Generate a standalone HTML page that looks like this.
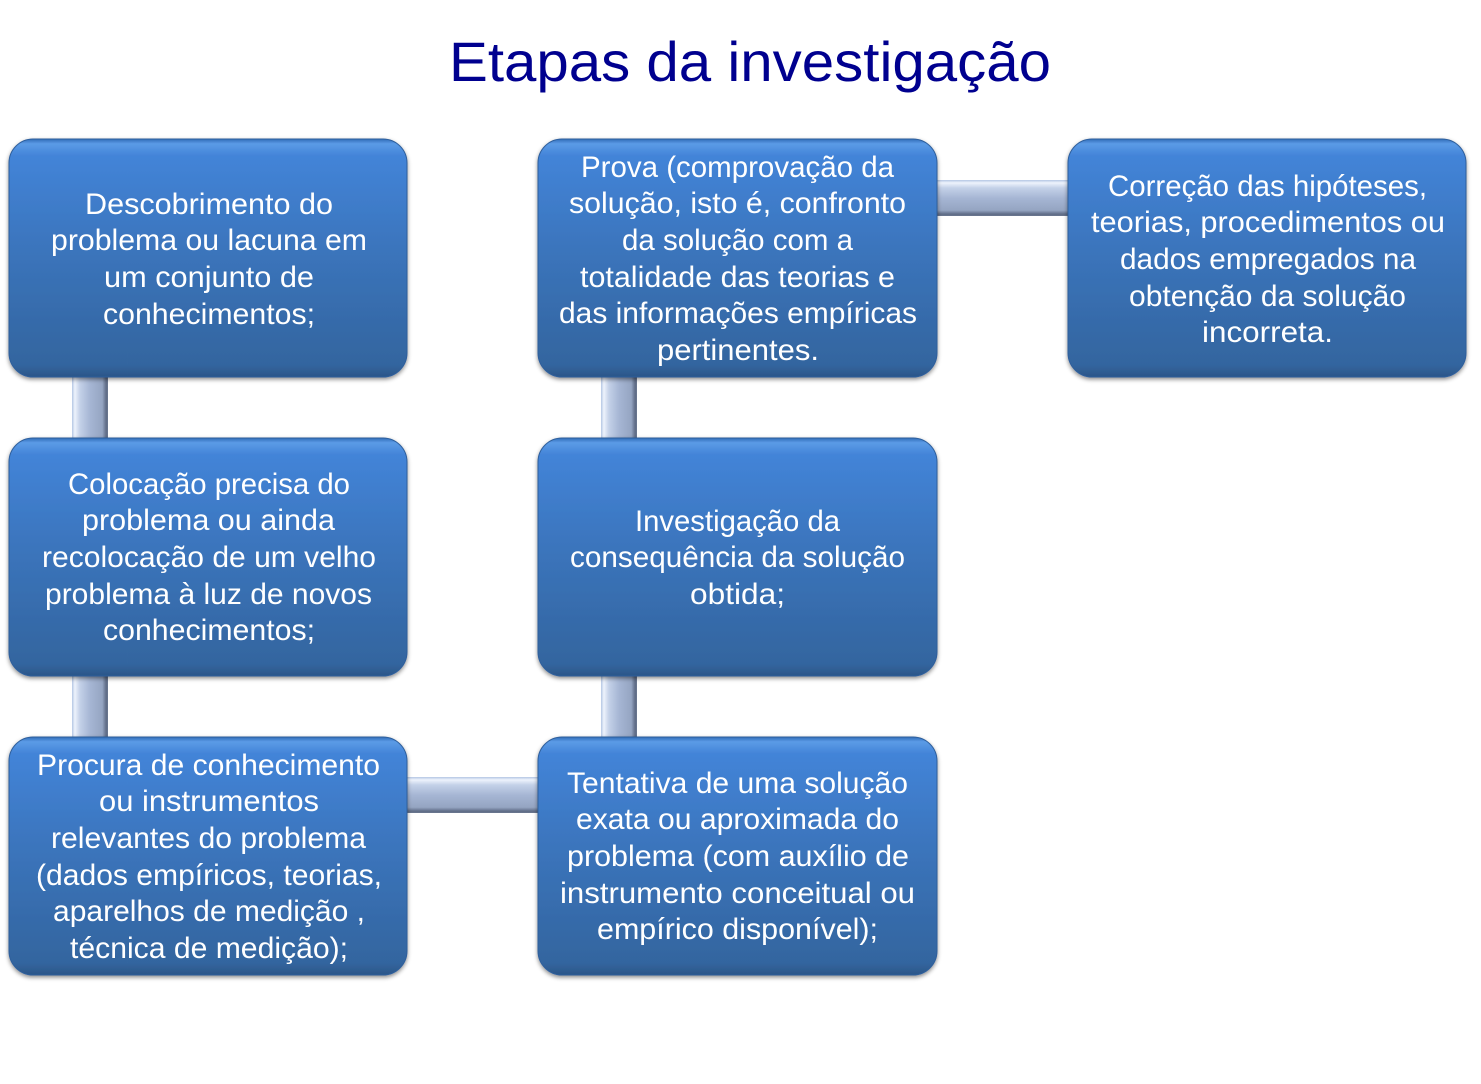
<!DOCTYPE html>
<html><head><meta charset="utf-8"><style>
html,body{margin:0;padding:0;background:#fff;width:1481px;height:1084px;overflow:hidden}
svg{display:block}
.t text{font-family:"Liberation Sans",sans-serif;font-size:29.5px;fill:#fff}
</style></head><body>
<svg width="1481" height="1084" viewBox="0 0 1481 1084" xmlns="http://www.w3.org/2000/svg">
<defs>
<linearGradient id="b" x1="0" y1="0" x2="0" y2="1">
<stop offset="0" stop-color="#2f6cb8"/><stop offset="0.02" stop-color="#5b9be6"/><stop offset="0.07" stop-color="#4384d8"/><stop offset="0.45" stop-color="#3b75bd"/><stop offset="0.95" stop-color="#33659f"/><stop offset="1" stop-color="#2b5688"/>
</linearGradient>
<linearGradient id="h" x1="0" y1="0" x2="0" y2="1">
<stop offset="0" stop-color="#b4c6e4"/><stop offset="0.08" stop-color="#eef3fc"/><stop offset="0.22" stop-color="#c4d1e8"/><stop offset="0.5" stop-color="#a6b6d4"/><stop offset="0.84" stop-color="#95a5c2"/><stop offset="0.95" stop-color="#5f6c86"/><stop offset="1" stop-color="#6c7890"/>
</linearGradient>
<linearGradient id="v" x1="0" y1="0" x2="1" y2="0">
<stop offset="0" stop-color="#b4c6e4"/><stop offset="0.08" stop-color="#eef3fc"/><stop offset="0.22" stop-color="#c4d1e8"/><stop offset="0.5" stop-color="#a6b6d4"/><stop offset="0.84" stop-color="#95a5c2"/><stop offset="0.95" stop-color="#5f6c86"/><stop offset="1" stop-color="#6c7890"/>
</linearGradient>
<filter id="s" x="-5%" y="-5%" width="110%" height="112%"><feDropShadow dx="0" dy="2" stdDeviation="2" flood-color="#000" flood-opacity="0.45"/></filter>
</defs>

<text x="449" y="81" textLength="602" lengthAdjust="spacingAndGlyphs" font-family="'Liberation Sans',sans-serif" font-size="56" fill="#00008f">Etapas da investigação</text>

<rect x="72" y="375" width="36" height="65" fill="url(#v)"/>
<rect x="72" y="674" width="36" height="65" fill="url(#v)"/>
<rect x="601" y="375" width="36" height="65" fill="url(#v)"/>
<rect x="601" y="674" width="36" height="65" fill="url(#v)"/>
<rect x="935" y="180" width="135" height="36" fill="url(#h)"/>
<rect x="405" y="777" width="135" height="36" fill="url(#h)"/>

<g filter="url(#s)" fill="url(#b)" stroke="#2f5f9c" stroke-width="1">
<rect x="9" y="139" width="398" height="238" rx="24"/>
<rect x="9" y="438" width="398" height="238" rx="24"/>
<rect x="9" y="737" width="398" height="238" rx="24"/>
<rect x="538" y="139" width="399" height="238" rx="24"/>
<rect x="538" y="438" width="399" height="238" rx="24"/>
<rect x="538" y="737" width="399" height="238" rx="24"/>
<rect x="1068" y="139" width="398" height="238" rx="24"/>
</g>

<g class="t">
<text x="85" y="214" textLength="248" lengthAdjust="spacingAndGlyphs">Descobrimento do</text>
<text x="51" y="250" textLength="316" lengthAdjust="spacingAndGlyphs">problema ou lacuna em</text>
<text x="104" y="287" textLength="210" lengthAdjust="spacingAndGlyphs">um conjunto de</text>
<text x="103" y="324" textLength="212" lengthAdjust="spacingAndGlyphs">conhecimentos;</text>

<text x="68" y="494" textLength="282" lengthAdjust="spacingAndGlyphs">Colocação precisa do</text>
<text x="82" y="530" textLength="253" lengthAdjust="spacingAndGlyphs">problema ou ainda</text>
<text x="42" y="567" textLength="334" lengthAdjust="spacingAndGlyphs">recolocação de um velho</text>
<text x="45" y="604" textLength="327" lengthAdjust="spacingAndGlyphs">problema à luz de novos</text>
<text x="103" y="640" textLength="212" lengthAdjust="spacingAndGlyphs">conhecimentos;</text>

<text x="37" y="775" textLength="343" lengthAdjust="spacingAndGlyphs">Procura de conhecimento</text>
<text x="99" y="811" textLength="220" lengthAdjust="spacingAndGlyphs">ou instrumentos</text>
<text x="51" y="848" textLength="315" lengthAdjust="spacingAndGlyphs">relevantes do problema</text>
<text x="36" y="885" textLength="346" lengthAdjust="spacingAndGlyphs">(dados empíricos, teorias,</text>
<text x="53" y="921" textLength="312" lengthAdjust="spacingAndGlyphs">aparelhos de medição ,</text>
<text x="70" y="958" textLength="278" lengthAdjust="spacingAndGlyphs">técnica de medição);</text>

<text x="581" y="177" textLength="313" lengthAdjust="spacingAndGlyphs">Prova (comprovação da</text>
<text x="569" y="213" textLength="337" lengthAdjust="spacingAndGlyphs">solução, isto é, confronto</text>
<text x="622" y="250" textLength="231" lengthAdjust="spacingAndGlyphs">da solução com a</text>
<text x="580" y="287" textLength="315" lengthAdjust="spacingAndGlyphs">totalidade das teorias e</text>
<text x="559" y="323" textLength="358" lengthAdjust="spacingAndGlyphs">das informações empíricas</text>
<text x="657" y="360" textLength="162" lengthAdjust="spacingAndGlyphs">pertinentes.</text>

<text x="635" y="531" textLength="205" lengthAdjust="spacingAndGlyphs">Investigação da</text>
<text x="570" y="567" textLength="335" lengthAdjust="spacingAndGlyphs">consequência da solução</text>
<text x="690" y="604" textLength="95" lengthAdjust="spacingAndGlyphs">obtida;</text>

<text x="567" y="793" textLength="341" lengthAdjust="spacingAndGlyphs">Tentativa de uma solução</text>
<text x="576" y="829" textLength="323" lengthAdjust="spacingAndGlyphs">exata ou aproximada do</text>
<text x="567" y="866" textLength="342" lengthAdjust="spacingAndGlyphs">problema (com auxílio de</text>
<text x="560" y="903" textLength="355" lengthAdjust="spacingAndGlyphs">instrumento conceitual ou</text>
<text x="597" y="939" textLength="281" lengthAdjust="spacingAndGlyphs">empírico disponível);</text>

<text x="1108" y="196" textLength="319" lengthAdjust="spacingAndGlyphs">Correção das hipóteses,</text>
<text x="1091" y="232" textLength="354" lengthAdjust="spacingAndGlyphs">teorias, procedimentos ou</text>
<text x="1120" y="269" textLength="296" lengthAdjust="spacingAndGlyphs">dados empregados na</text>
<text x="1129" y="306" textLength="277" lengthAdjust="spacingAndGlyphs">obtenção da solução</text>
<text x="1202" y="342" textLength="131" lengthAdjust="spacingAndGlyphs">incorreta.</text>
</g>
</svg>
</body></html>
